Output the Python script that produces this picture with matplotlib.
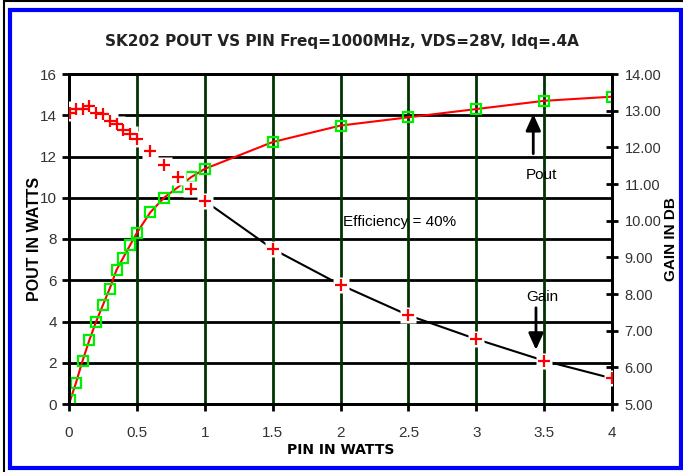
import matplotlib.pyplot as plt
from matplotlib.patches import Rectangle

# power out (W) vs power in (W)
pin_pout = [0.01, 0.05, 0.10, 0.15, 0.20, 0.25, 0.30, 0.35, 0.40, 0.45, 0.50,
            0.60, 0.70, 0.80, 0.90, 1.00, 1.50, 2.00, 2.50, 3.00, 3.50, 4.00]
pout = [0.2, 1.0, 2.1, 3.1, 4.0, 4.8, 5.6, 6.5, 7.1, 7.7, 8.3,
        9.3, 10.0, 10.5, 11.0, 11.4, 12.7, 13.5, 13.9, 14.3, 14.7, 14.9]

# gain (dB) vs power in (W)
pin_gain = [0.01, 0.05, 0.10, 0.15, 0.20, 0.25, 0.30, 0.35, 0.40, 0.45, 0.50,
            0.60, 0.70, 0.80, 0.90, 1.00, 1.50, 2.00, 2.50, 3.00, 3.50, 4.00]
gain = [12.95, 13.05, 13.05, 13.12, 12.95, 12.9, 12.73, 12.63, 12.47, 12.36, 12.24,
        11.9, 11.53, 11.2, 10.87, 10.54, 9.23, 8.25, 7.42, 6.77, 6.18, 5.7]

xticks = [0, 0.5, 1, 1.5, 2, 2.5, 3, 3.5, 4]
xticklabels = ['0', '0.5', '1', '1.5', '2', '2.5', '3', '3.5', '4']
left_ticks = [0, 2, 4, 6, 8, 10, 12, 14, 16]
right_ticks = [5, 6, 7, 8, 9, 10, 11, 12, 13, 14]

plt.rcParams['font.family'] = ['Liberation Sans', 'DejaVu Sans']

fig = plt.figure(figsize=(6.83, 4.72), dpi=100)
ax = fig.add_axes([69 / 683, 68 / 472, 543 / 683, 330 / 472])
ax2 = ax.twinx()

# frame around the whole chart
fig.patches.append(Rectangle((3.5 / 683, -0.01), 1.02, 1 - 1.0 / 472 + 0.01,
                             transform=fig.transFigure, fill=False,
                             edgecolor='black', linewidth=1.5))
fig.patches.append(Rectangle((9.5 / 683, 4.5 / 472), 671 / 683, 458 / 472,
                             transform=fig.transFigure, fill=False,
                             edgecolor='#0000ff', linewidth=3))

# grid
for y in left_ticks:
    ax.axhline(y, color='black', lw=2, zorder=1)
for x in xticks[1:-1]:
    ax.axvline(x, color='#003300', lw=2, zorder=1)

ax.plot(pin_pout, pout, color='red', lw=1.5, zorder=3)
ax.plot(pin_pout, pout, ls='none', marker='s', ms=7, mfc='none', mec='#00ee00',
        mew=1.6, zorder=4)

ax.set_xlim(0, 4)
ax.set_ylim(0, 16)
ax.set_xticks(xticks)
ax.set_xticklabels(xticklabels)
ax.set_yticks(left_ticks)
ax.tick_params(axis='both', colors='black', labelcolor='#333333', labelsize=11,
               width=2, length=5, direction='out')
ax.tick_params(axis='x', pad=11)
ax.set_ylabel('POUT IN WATTS', fontsize=11.5, fontweight='bold', labelpad=-1)
ax.set_xlabel('PIN IN WATTS', fontsize=10, fontweight='bold', labelpad=2,
              family='DejaVu Sans')
for s in ax.spines.values():
    s.set_linewidth(2)

ax2.plot(pin_gain, gain, color='black', lw=1.5, zorder=3)
ax2.plot(pin_gain, gain, ls='none', marker='s', ms=11, mfc='white', mec='none', zorder=4)
ax2.plot(pin_gain, gain, ls='none', marker='+', ms=9, mew=1.6, color='red', zorder=5)
ax2.set_ylim(5, 14)
ax2.set_yticks(right_ticks)
ax2.set_yticklabels([f'{v:.2f}' for v in right_ticks])
ax2.tick_params(axis='y', labelcolor='#333333', labelsize=10.5, width=2, length=8,
                direction='inout', pad=5)
ax2.set_ylabel('GAIN IN DB', fontsize=11, fontweight='bold', labelpad=2)
for s in ax2.spines.values():
    s.set_linewidth(2)

fig.suptitle('SK202 POUT VS PIN Freq=1000MHz, VDS=28V, Idq=.4A', y=0.928,
             fontsize=11, fontweight='bold', family='DejaVu Sans', color='#222222')

ax.text(2.02, 8.8, 'Efficiency = 40%', fontsize=11, ha='left', va='center', zorder=6)
ax.text(3.48, 11.1, 'Pout', fontsize=11, ha='center', va='center', zorder=6)
ax.text(3.49, 5.2, 'Gain', fontsize=11, ha='center', va='center', zorder=6)
ax.annotate('', xy=(3.42, 14.2), xytext=(3.42, 12.0), zorder=6,
            arrowprops=dict(arrowstyle='-|>,head_length=1.0,head_width=0.45',
                            color='black', lw=2))
ax2.annotate('', xy=(3.44, 6.4), xytext=(3.44, 7.7), zorder=6,
             arrowprops=dict(arrowstyle='-|>,head_length=1.0,head_width=0.45',
                             color='black', lw=2))

fig.savefig('out.png', dpi=100)
